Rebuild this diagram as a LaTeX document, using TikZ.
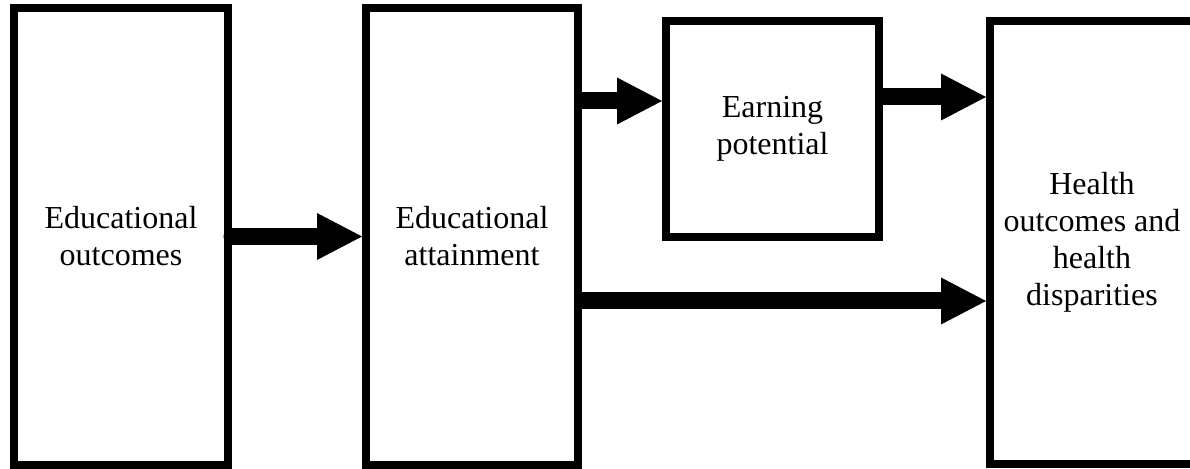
\documentclass[tikz,border=0pt]{standalone}
\usepackage{fontspec}
\setmainfont{Liberation Serif}
\usetikzlibrary{arrows.meta}

\begin{document}
\begin{tikzpicture}[x=0.5pt, y=-0.5pt,
    box/.style={draw, line width=4pt, align=center, inner sep=0pt,
      font=\fontsize{16}{18.5}\selectfont},
    fatarrow/.style={line width=8.5pt,
      -{Triangle[length=22.5pt, width=23.5pt, line width=0pt]}}]
    \useasboundingbox (0,0) rectangle (1190,469);

    % Draw the boxes
    \node[box, minimum width=107pt, minimum height=228.5pt] (outcomes) at (121,236.5) {Educational\\outcomes};
    \node[box, minimum width=106pt, minimum height=228.5pt] (attainment) at (472,236.5) {Educational\\attainment};
    \node[box, minimum width=106.5pt, minimum height=108pt] (earning) at (772.5,129) {Earning\\potential};
    \node[box, minimum width=102pt, minimum height=221.5pt] (health) at (1092,242.5) {Health\\outcomes and\\health\\disparities};

    % Rows of the arrows
    \coordinate (rowa) at (0,101);
    \coordinate (rowb) at (0,97);
    \coordinate (rowc) at (0,301);

    % Arrows between boxes
    \draw[fatarrow, line cap=round] (outcomes.east) -- (attainment.west);
    \draw[fatarrow] (attainment.east |- rowa) -- (earning.west |- rowa);
    \draw[fatarrow] (earning.east |- rowb) -- (health.west |- rowb);
    \draw[fatarrow] (attainment.east |- rowc) -- (health.west |- rowc);
\end{tikzpicture}
\end{document}
